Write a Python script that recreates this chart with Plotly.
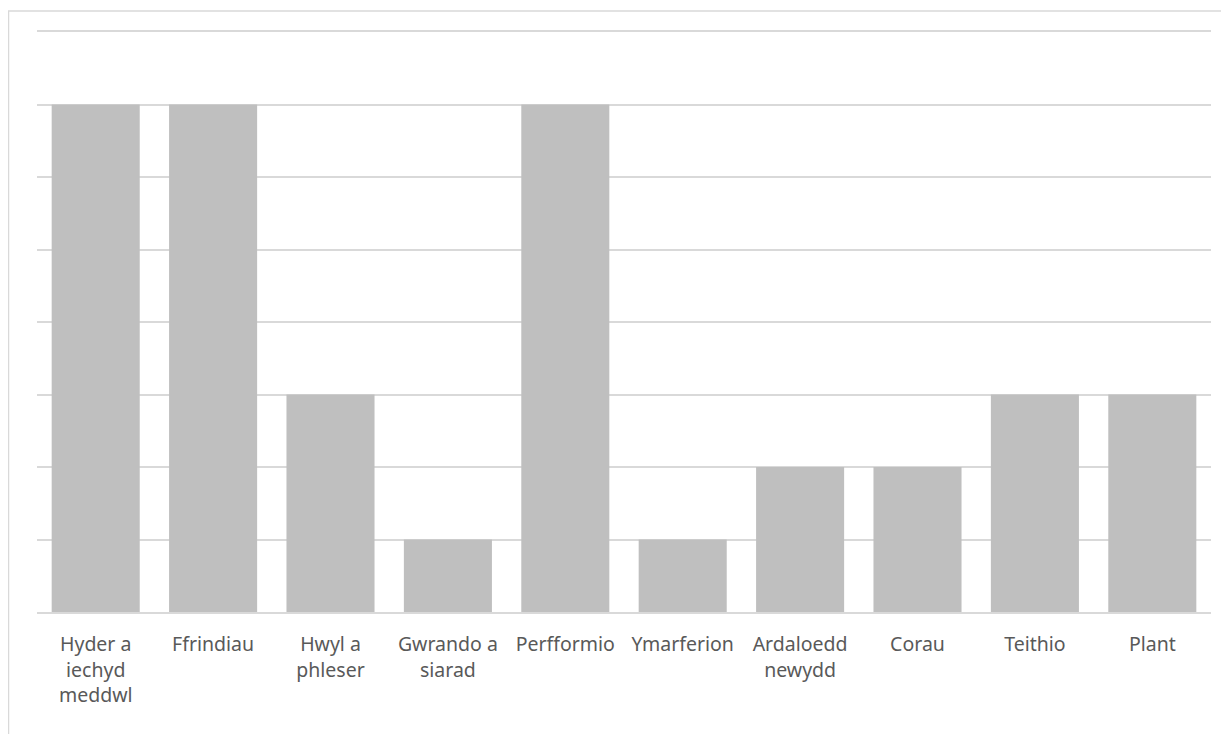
import plotly.graph_objects as go

categories = ["Hyder a<br>iechyd<br>meddwl", "Ffrindiau", "Hwyl a<br>phleser", "Gwrando a<br>siarad",
              "Perfformio", "Ymarferion", "Ardaloedd<br>newydd", "Corau", "Teithio", "Plant"]
values = [7, 7, 3, 1, 7, 1, 2, 2, 3, 3]

# page body has an 8px margin, so the figure is drawn 8px in from the window's corner
OFF = 8
W, H = 1229 - OFF, 734 - OFF
L, R, T, B = 37 - OFF, 18, 32 - OFF, 122
pw, ph = W - L - R, H - T - B

def px_x(x):
    return (x - OFF - L) / pw

def px_y(y):
    return (H - B - (y - OFF)) / ph

fig = go.Figure(go.Bar(x=categories, y=values, marker_color="#BFBFBF", marker_line_width=0))

frame = "#D9D9D9"
fig.update_layout(
    width=W, height=H,
    margin=dict(l=L, r=R, t=T, b=B),
    paper_bgcolor="white", plot_bgcolor="white",
    bargap=0.25,
    showlegend=False,
    font=dict(family="Noto Sans", size=19.5, color="#595959"),
    shapes=[
        dict(type="line", xref="paper", yref="paper", x0=px_x(7), x1=px_x(1240), y0=px_y(11), y1=px_y(11),
             line=dict(color=frame, width=1.5)),
        dict(type="line", xref="paper", yref="paper", x0=px_x(8.5), x1=px_x(8.5), y0=px_y(11), y1=px_y(745),
             line=dict(color=frame, width=1.5)),
    ],
)
fig.update_yaxes(range=[0, 8], dtick=1, showticklabels=False, gridcolor=frame, gridwidth=1.5,
                 zeroline=False, showline=False)
fig.update_xaxes(showline=True, mirror=True, linecolor=frame, linewidth=1.5, ticks="",
                 ticklabelstandoff=14, tickangle=0)

fig.write_html("out.html")
